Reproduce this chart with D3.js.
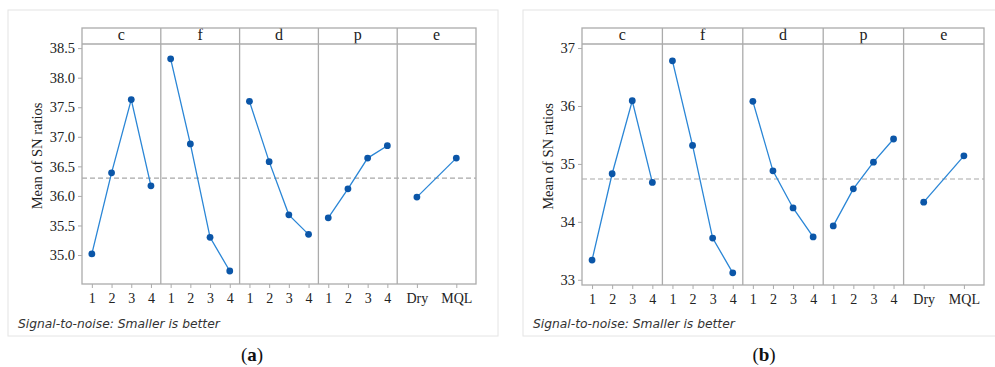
<!DOCTYPE html>
<html>
<head>
<meta charset="utf-8">
<script src="https://d3js.org/d3.v7.min.js"></script>
<style>
  body { margin: 0; background: #fff; }
  svg { display: block; }
  .tick text { font-family: "Liberation Serif", serif; fill: #222; }
</style>
</head>
<body>
<script>
// factors shown as panels, and the levels within them
const factors = ['c', 'f', 'd', 'p', 'e'];
const levels = ['1', '2', '3', '4'];
const lubricants = ['Dry', 'MQL'];

// (a) mean of SN ratios
const aC = [35.02, 36.39, 37.63, 36.17];
const aF = [38.32, 36.88, 35.30, 34.73];
const aD = [37.60, 36.58, 35.68, 35.35];
const aP = [35.63, 36.12, 36.64, 36.85];
const aE = [35.98, 36.64];
const aMean = 36.30;
const aTicks = [35.0, 35.5, 36.0, 36.5, 37.0, 37.5, 38.0, 38.5];

// (b) mean of SN ratios
const bC = [33.34, 34.83, 36.09, 34.68];
const bF = [36.78, 35.32, 33.72, 33.12];
const bD = [36.08, 34.88, 34.24, 33.74];
const bP = [33.93, 34.57, 35.03, 35.43];
const bE = [34.34, 35.14];
const bMean = 34.74;
const bTicks = [33, 34, 35, 36, 37];

const W = 995, H = 367;
const lineColor = '#2a86d6';
const dotColor = '#0b56a8';
const borderColor = '#ababab';

const svg = d3.select('body').append('svg')
    .attr('width', W)
    .attr('height', H);

function drawChart(cfg) {
    const g = svg.append('g');

    // light outer frame
    g.append('rect')
        .attr('x', cfg.frame[0]).attr('y', cfg.frame[1])
        .attr('width', cfg.frame[2]).attr('height', cfg.frame[3])
        .attr('fill', 'none')
        .attr('stroke', '#e4e4e4');

    const x = d3.scaleBand().domain(factors).range([cfg.left, cfg.right]);
    const y = d3.scaleLinear().domain(cfg.domain).range([cfg.bottom, cfg.stripBottom]);

    // overall mean
    g.append('line')
        .attr('x1', cfg.left).attr('x2', cfg.right)
        .attr('y1', y(cfg.mean)).attr('y2', y(cfg.mean))
        .attr('stroke', '#a8a8a8')
        .attr('stroke-width', 1.2)
        .attr('stroke-dasharray', '5,3');

    // y axis
    const yAxis = g.append('g')
        .attr('transform', `translate(${cfg.left},0)`)
        .call(d3.axisLeft(y).tickValues(cfg.ticks).tickSize(4).tickPadding(3).tickFormat(cfg.fmt));
    yAxis.select('.domain').remove();
    yAxis.selectAll('.tick line').attr('stroke', borderColor);
    yAxis.selectAll('.tick text').attr('font-size', 14.5);

    factors.forEach((f, i) => {
        const cats = f === 'e' ? lubricants : levels;
        const xp = d3.scalePoint()
            .domain(cats)
            .range([x(f), x(f) + x.bandwidth()])
            .padding(0.5);
        const vals = cfg.series[i];
        const pts = cats.map((c, j) => [xp(c), y(vals[j])]);

        g.append('path')
            .attr('d', d3.line()(pts))
            .attr('fill', 'none')
            .attr('stroke', lineColor)
            .attr('stroke-width', 1.3);

        g.selectAll(null)
            .data(pts)
            .join('circle')
            .attr('cx', d => d[0])
            .attr('cy', d => d[1])
            .attr('r', 3.4)
            .attr('fill', dotColor);

        const xAxis = g.append('g')
            .attr('transform', `translate(0,${cfg.bottom})`)
            .call(d3.axisBottom(xp).tickSize(4).tickPadding(5));
        xAxis.select('.domain').remove();
        xAxis.selectAll('.tick line').attr('stroke', borderColor);
        xAxis.selectAll('.tick text').attr('font-size', 14);

        // strip label
        g.append('text')
            .attr('x', x(f) + x.bandwidth() / 2)
            .attr('y', cfg.stripBottom - 4)
            .attr('text-anchor', 'middle')
            .attr('font-family', '"Liberation Serif", serif')
            .attr('font-size', 16)
            .attr('fill', '#222')
            .text(f);

        // panel divider
        if (i > 0) {
            g.append('line')
                .attr('x1', x(f)).attr('x2', x(f))
                .attr('y1', cfg.top).attr('y2', cfg.bottom)
                .attr('stroke', borderColor)
                .attr('stroke-width', 1.3);
        }
    });

    // strip bottom line and plot border
    g.append('line')
        .attr('x1', cfg.left).attr('x2', cfg.right)
        .attr('y1', cfg.stripBottom).attr('y2', cfg.stripBottom)
        .attr('stroke', borderColor)
        .attr('stroke-width', 1.3);
    g.append('rect')
        .attr('x', cfg.left).attr('y', cfg.top)
        .attr('width', cfg.right - cfg.left).attr('height', cfg.bottom - cfg.top)
        .attr('fill', 'none')
        .attr('stroke', borderColor)
        .attr('stroke-width', 1.3);

    // y label
    g.append('text')
        .attr('transform', `translate(${cfg.yLabelX},${(cfg.top + cfg.bottom) / 2}) rotate(-90)`)
        .attr('text-anchor', 'middle')
        .attr('font-family', '"Liberation Serif", serif')
        .attr('font-size', 14.5)
        .attr('fill', '#222')
        .text('Mean of SN ratios');

    // footnote
    g.append('text')
        .attr('x', cfg.noteX)
        .attr('y', 328)
        .attr('font-family', '"DejaVu Sans", sans-serif')
        .attr('font-style', 'italic')
        .attr('font-size', 12.3)
        .attr('fill', '#333')
        .text('Signal-to-noise: Smaller is better');

    // caption
    g.append('text')
        .attr('x', cfg.captionX)
        .attr('y', 361)
        .attr('text-anchor', 'middle')
        .attr('font-family', '"Liberation Serif", serif')
        .attr('font-size', 19)
        .attr('fill', '#111')
        .html(`(<tspan font-weight="bold">${cfg.caption}</tspan>)`);
}

drawChart({
    frame: [8, 10, 490, 326],
    left: 82, right: 476, top: 28, stripBottom: 44, bottom: 284,
    domain: [34.51, 38.57],
    ticks: aTicks, fmt: d3.format('.1f'),
    mean: aMean,
    series: [aC, aF, aD, aP, aE],
    yLabelX: 42, noteX: 18, captionX: 252, caption: 'a'
});

drawChart({
    frame: [523, 10, 480, 326],
    left: 582, right: 984, top: 28, stripBottom: 44, bottom: 285,
    domain: [32.91, 37.07],
    ticks: bTicks, fmt: d3.format('d'),
    mean: bMean,
    series: [bC, bF, bD, bP, bE],
    yLabelX: 553, noteX: 533, captionX: 764, caption: 'b'
});
</script>
</body>
</html>
